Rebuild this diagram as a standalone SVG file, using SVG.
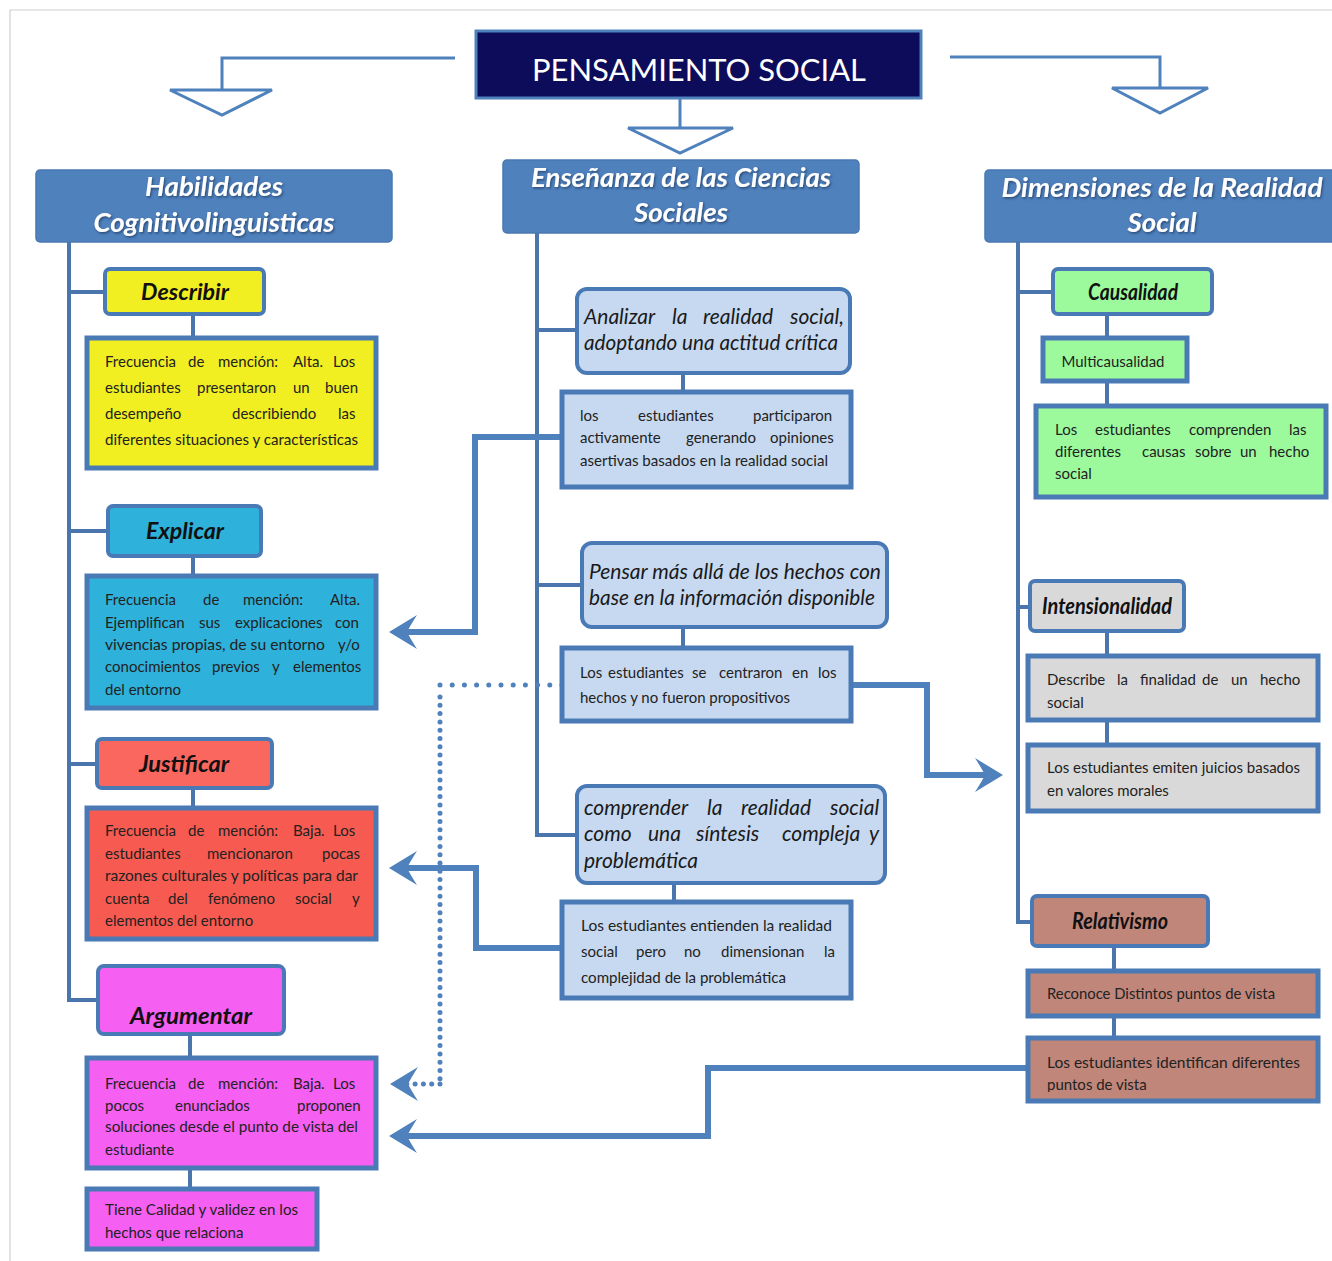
<svg xmlns="http://www.w3.org/2000/svg" width="1332" height="1261" viewBox="0 0 1332 1261">
<style>
.bg{fill:#ffffff}
.frame{stroke:#cfcfcf;stroke-width:1.2;fill:none}
.hdr{fill:#4f81bd;stroke:#4a78b0;stroke-width:1.5}
.hdrt{font-family:Lato,"Liberation Sans",sans-serif;font-weight:bold;font-style:italic;font-size:26px;fill:#ffffff;text-anchor:middle}
.ttl{fill:#0d0c5a;stroke:#4f81bd;stroke-width:3}
.ttlt{font-family:Lato,"Liberation Sans",sans-serif;font-size:30px;fill:#ffffff;text-anchor:middle}
.sub{stroke:#4a7ab5;stroke-width:4}
.subt{font-family:Lato,"Liberation Sans",sans-serif;font-weight:bold;font-style:italic;font-size:22px;fill:#111111;text-anchor:middle}
.det{stroke:#4a7ab5;stroke-width:5}
.t{font-family:Lato,"Liberation Sans",sans-serif;font-size:15px;fill:#222222}
.it{font-family:Lato,"Liberation Sans",sans-serif;font-style:italic;font-size:21px;fill:#1a1a1a}
.ln{stroke:#4a76ad;stroke-width:4;fill:none}
.tln{stroke:#4f81bd;stroke-width:3;fill:none}
.tri{fill:#ffffff;stroke:#4f81bd;stroke-width:3;stroke-linejoin:miter}
.arr{stroke:#4f81bd;stroke-width:6;fill:none;marker-end:url(#ah)}
.dot{stroke:#4f81bd;stroke-width:5;fill:none;stroke-linecap:round}
.yel{fill:#f1ee21}
.cya{fill:#2eb1da}
.red1{fill:#f9675f}
.red2{fill:#f75a50}
.mag{fill:#f55ff2}
.lb{fill:#c6d9f1}
.grn{fill:#9cfa9c}
.gry{fill:#d9d9d9}
.brn{fill:#c0867a}
</style>
<defs>
<marker id="ah" markerUnits="userSpaceOnUse" orient="auto" markerWidth="40" markerHeight="40" viewBox="-30 -20 40 40" refX="-8" refY="0" overflow="visible">
<path d="M0,0 L-28,-17 Q-21,-6 -18,0 Q-21,6 -28,17 Z" fill="#4f81bd"/>
</marker>
<filter id="sh" x="-10%" y="-20%" width="120%" height="150%">
<feDropShadow dx="1.2" dy="1.5" stdDeviation="0.8" flood-color="#1d3557" flood-opacity="0.7"/>
</filter>
<clipPath id="clipPv"><rect x="1030" y="1040" width="286" height="52"/></clipPath>
</defs>

<rect class="bg" x="0" y="0" width="1332" height="1261"/>
<path class="frame" d="M10,1261 V10 H1332"/>

<g id="connectors">
<path class="tln" d="M455,58 H222 V90"/>
<polygon class="tri" points="170,90 272,90 222,115"/>
<path class="tln" d="M680,98 V128"/>
<polygon class="tri" points="628,128 733,128 680,153"/>
<path class="tln" d="M950,57 H1160 V88"/>
<polygon class="tri" points="1112,88 1208,88 1160,113"/>
<path class="ln" d="M69,242 V1000 H98"/>
<path class="ln" d="M69,292 H105"/>
<path class="ln" d="M69,531 H108"/>
<path class="ln" d="M69,764 H97"/>
<path class="ln" d="M193,314 V338"/>
<path class="ln" d="M193,556 V576"/>
<path class="ln" d="M193,788 V808"/>
<path class="ln" d="M190,1034 V1058"/>
<path class="ln" d="M190,1168 V1189"/>
<path class="ln" d="M537,233 V835 H577"/>
<path class="ln" d="M537,330 H577"/>
<path class="ln" d="M537,585 H582"/>
<path class="ln" d="M683,373 V392"/>
<path class="ln" d="M683,627 V648"/>
<path class="ln" d="M674,883 V902"/>
<path class="ln" d="M1018,242 V922 H1032"/>
<path class="ln" d="M1018,292 H1053"/>
<path class="ln" d="M1018,607 H1030"/>
<path class="ln" d="M1107,314 V338"/>
<path class="ln" d="M1107,381 V406"/>
<path class="ln" d="M1107,631 V656"/>
<path class="ln" d="M1107,720 V745"/>
<path class="ln" d="M1114,946 V971"/>
<path class="ln" d="M1114,1016 V1038"/>
<path class="arr" d="M562,437 H475 V632 H397"/>
<path class="arr" d="M851,685 H927 V775 H995"/>
<path class="arr" d="M562,948 H476 V868 H397"/>
<path class="arr" d="M1028,1068 H708 V1136 H397"/>
<path class="dot" d="M562,685 H440" stroke-dasharray="0 12.2"/>
<path class="dot" d="M440,697 V1084" stroke-dasharray="0 8.3"/>
<path class="dot" d="M440,1084 H398" stroke-dasharray="0 8.3" style="marker-end:url(#ah)"/>
</g>

<g id="title">
<rect class="ttl" x="476" y="31" width="445" height="67"/>
<text class="ttlt" x="699" y="81" textLength="334" lengthAdjust="spacingAndGlyphs">PENSAMIENTO SOCIAL</text>
</g>

<g id="habilidades">
<rect class="hdr" x="36" y="170" width="356" height="72" rx="4"/>
<text class="hdrt" filter="url(#sh)" x="214" y="196" textLength="138" lengthAdjust="spacingAndGlyphs">Habilidades</text>
<text class="hdrt" filter="url(#sh)" x="214" y="232" textLength="241" lengthAdjust="spacingAndGlyphs">Cognitivolinguisticas</text>
</g>

<g id="ensenanza">
<rect class="hdr" x="503" y="160" width="356" height="73" rx="4"/>
<text class="hdrt" filter="url(#sh)" x="681" y="187" textLength="300" lengthAdjust="spacingAndGlyphs">Enseñanza de las Ciencias</text>
<text class="hdrt" filter="url(#sh)" x="681" y="222" textLength="94" lengthAdjust="spacingAndGlyphs">Sociales</text>
</g>

<g id="dimensiones">
<rect class="hdr" x="985" y="170" width="352" height="72" rx="4"/>
<text class="hdrt" filter="url(#sh)" x="1162" y="197" textLength="321" lengthAdjust="spacingAndGlyphs">Dimensiones de la Realidad</text>
<text class="hdrt" filter="url(#sh)" x="1162" y="232" textLength="69" lengthAdjust="spacingAndGlyphs">Social</text>
</g>

<g id="describir">
<rect class="sub yel" x="105" y="269" width="159" height="45" rx="5"/>
<text class="subt" x="185" y="300" textLength="88" lengthAdjust="spacingAndGlyphs">Describir</text>
</g>
<g id="describir-det">
<rect class="det yel" x="87" y="338" width="289" height="130"/>
<text class="t" y="367"><tspan x="105">Frecuencia</tspan><tspan x="188">de</tspan><tspan x="218">mención:</tspan><tspan x="293">Alta.</tspan><tspan x="333">Los</tspan></text>
<text class="t" y="393"><tspan x="105">estudiantes</tspan><tspan x="197">presentaron</tspan><tspan x="293">un</tspan><tspan x="325">buen</tspan></text>
<text class="t" y="419"><tspan x="105">desempeño</tspan><tspan x="232">describiendo</tspan><tspan x="338">las</tspan></text>
<text class="t" x="105" y="445" textLength="253" lengthAdjust="spacingAndGlyphs">diferentes situaciones y características</text>
</g>

<g id="explicar">
<rect class="sub cya" x="108" y="506" width="153" height="50" rx="5"/>
<text class="subt" x="185" y="539" textLength="78" lengthAdjust="spacingAndGlyphs">Explicar</text>
</g>
<g id="explicar-det">
<rect class="det cya" x="87" y="576" width="289" height="132"/>
<text class="t" y="605"><tspan x="105">Frecuencia</tspan><tspan x="203">de</tspan><tspan x="243">mención:</tspan><tspan x="330">Alta.</tspan></text>
<text class="t" y="628"><tspan x="105">Ejemplifican</tspan><tspan x="199">sus</tspan><tspan x="235">explicaciones</tspan><tspan x="335">con</tspan></text>
<text class="t" y="650"><tspan x="105" textLength="220" lengthAdjust="spacingAndGlyphs">vivencias propias, de su entorno</tspan><tspan x="338">y/o</tspan></text>
<text class="t" y="672"><tspan x="105">conocimientos</tspan><tspan x="212">previos</tspan><tspan x="272">y</tspan><tspan x="293">elementos</tspan></text>
<text class="t" x="105" y="695">del entorno</text>
</g>

<g id="justificar">
<rect class="sub red1" x="97" y="739" width="175" height="49" rx="5"/>
<text class="subt" x="184" y="772" textLength="90" lengthAdjust="spacingAndGlyphs">Justificar</text>
</g>
<g id="justificar-det">
<rect class="det red2" x="87" y="808" width="289" height="131"/>
<text class="t" y="836"><tspan x="105">Frecuencia</tspan><tspan x="188">de</tspan><tspan x="218">mención:</tspan><tspan x="293">Baja.</tspan><tspan x="333">Los</tspan></text>
<text class="t" y="859"><tspan x="105">estudiantes</tspan><tspan x="207">mencionaron</tspan><tspan x="322">pocas</tspan></text>
<text class="t" x="105" y="881" textLength="253" lengthAdjust="spacingAndGlyphs">razones culturales y políticas para dar</text>
<text class="t" y="904"><tspan x="105">cuenta</tspan><tspan x="168">del</tspan><tspan x="208">fenómeno</tspan><tspan x="295">social</tspan><tspan x="352">y</tspan></text>
<text class="t" x="105" y="926">elementos del entorno</text>
</g>

<g id="argumentar">
<rect class="sub mag" x="98" y="966" width="186" height="68" rx="6"/>
<text class="subt" x="191" y="1024" textLength="122" lengthAdjust="spacingAndGlyphs">Argumentar</text>
</g>
<g id="argumentar-det">
<rect class="det mag" x="87" y="1058" width="289" height="110"/>
<text class="t" y="1089"><tspan x="105">Frecuencia</tspan><tspan x="188">de</tspan><tspan x="218">mención:</tspan><tspan x="293">Baja.</tspan><tspan x="333">Los</tspan></text>
<text class="t" y="1111"><tspan x="105">pocos</tspan><tspan x="175">enunciados</tspan><tspan x="297">proponen</tspan></text>
<text class="t" x="105" y="1132" textLength="253" lengthAdjust="spacingAndGlyphs">soluciones desde el punto de vista del</text>
<text class="t" x="105" y="1155">estudiante</text>
</g>
<g id="argumentar-det2">
<rect class="det mag" x="87" y="1189" width="230" height="60"/>
<text class="t" x="105" y="1215" textLength="193" lengthAdjust="spacingAndGlyphs">Tiene Calidad y validez en los</text>
<text class="t" x="105" y="1238">hechos que relaciona</text>
</g>

<g id="analizar">
<rect class="sub lb" x="577" y="289" width="273" height="84" rx="10"/>
<text class="it" y="324"><tspan x="584">Analizar</tspan><tspan x="672">la</tspan><tspan x="703">realidad</tspan><tspan x="790">social,</tspan></text>
<text class="it" x="584" y="350" textLength="254" lengthAdjust="spacingAndGlyphs">adoptando una actitud crítica</text>
</g>
<g id="analizar-det">
<rect class="det lb" x="562" y="392" width="289" height="95"/>
<text class="t" y="421"><tspan x="580">los</tspan><tspan x="638">estudiantes</tspan><tspan x="753">participaron</tspan></text>
<text class="t" y="443"><tspan x="580">activamente</tspan><tspan x="686">generando</tspan><tspan x="770">opiniones</tspan></text>
<text class="t" x="580" y="466" textLength="248" lengthAdjust="spacingAndGlyphs">asertivas basados en la realidad social</text>
</g>

<g id="pensar">
<rect class="sub lb" x="582" y="543" width="305" height="84" rx="10"/>
<text class="it" x="589" y="579" textLength="292" lengthAdjust="spacingAndGlyphs">Pensar más allá de los hechos con</text>
<text class="it" x="589" y="605" textLength="286" lengthAdjust="spacingAndGlyphs">base en la información disponible</text>
</g>
<g id="pensar-det">
<rect class="det lb" x="562" y="648" width="289" height="73"/>
<text class="t" y="678"><tspan x="580">Los</tspan><tspan x="608">estudiantes</tspan><tspan x="692">se</tspan><tspan x="719">centraron</tspan><tspan x="792">en</tspan><tspan x="818">los</tspan></text>
<text class="t" x="580" y="703" textLength="210" lengthAdjust="spacingAndGlyphs">hechos y no fueron propositivos</text>
</g>

<g id="comprender">
<rect class="sub lb" x="577" y="786" width="308" height="97" rx="10"/>
<text class="it" y="815"><tspan x="584">comprender</tspan><tspan x="707">la</tspan><tspan x="741">realidad</tspan><tspan x="830">social</tspan></text>
<text class="it" y="841"><tspan x="584">como</tspan><tspan x="648">una</tspan><tspan x="696">síntesis</tspan><tspan x="782">compleja</tspan><tspan x="869">y</tspan></text>
<text class="it" x="584" y="868">problemática</text>
</g>
<g id="comprender-det">
<rect class="det lb" x="562" y="902" width="289" height="96"/>
<text class="t" x="581" y="931" textLength="251" lengthAdjust="spacingAndGlyphs">Los estudiantes entienden la realidad</text>
<text class="t" y="957"><tspan x="581">social</tspan><tspan x="636">pero</tspan><tspan x="684">no</tspan><tspan x="721">dimensionan</tspan><tspan x="824">la</tspan></text>
<text class="t" x="581" y="983" textLength="205" lengthAdjust="spacingAndGlyphs">complejidad de la problemática</text>
</g>

<g id="causalidad">
<rect class="sub grn" x="1053" y="269" width="159" height="45" rx="5"/>
<text class="subt" x="1133" y="300" textLength="90" lengthAdjust="spacingAndGlyphs">Causalidad</text>
</g>
<g id="multicausalidad">
<rect class="det grn" x="1043" y="338" width="144" height="43"/>
<text class="t" x="1113" y="367" text-anchor="middle" textLength="103" lengthAdjust="spacingAndGlyphs">Multicausalidad</text>
</g>
<g id="causalidad-det">
<rect class="det grn" x="1036" y="406" width="290" height="91"/>
<text class="t" y="435"><tspan x="1055">Los</tspan><tspan x="1095">estudiantes</tspan><tspan x="1189">comprenden</tspan><tspan x="1289">las</tspan></text>
<text class="t" y="457"><tspan x="1055">diferentes</tspan><tspan x="1142">causas</tspan><tspan x="1195">sobre</tspan><tspan x="1240">un</tspan><tspan x="1269">hecho</tspan></text>
<text class="t" x="1055" y="479">social</text>
</g>

<g id="intensionalidad">
<rect class="sub gry" x="1030" y="581" width="154" height="50" rx="5"/>
<text class="subt" x="1107" y="614" textLength="130" lengthAdjust="spacingAndGlyphs">Intensionalidad</text>
</g>
<g id="intensionalidad-det">
<rect class="det gry" x="1028" y="656" width="290" height="64"/>
<text class="t" y="685"><tspan x="1047">Describe</tspan><tspan x="1117">la</tspan><tspan x="1140">finalidad</tspan><tspan x="1202">de</tspan><tspan x="1231">un</tspan><tspan x="1260">hecho</tspan></text>
<text class="t" x="1047" y="708">social</text>
</g>
<g id="intensionalidad-det2">
<rect class="det gry" x="1028" y="745" width="290" height="66"/>
<text class="t" x="1047" y="773" textLength="253" lengthAdjust="spacingAndGlyphs">Los estudiantes emiten juicios basados</text>
<text class="t" x="1047" y="796">en valores morales</text>
</g>

<g id="relativismo">
<rect class="sub brn" x="1032" y="896" width="176" height="50" rx="5"/>
<text class="subt" x="1120" y="929" textLength="96" lengthAdjust="spacingAndGlyphs">Relativismo</text>
</g>
<g id="relativismo-det">
<rect class="det brn" x="1028" y="971" width="290" height="45"/>
<text class="t" x="1047" y="999" textLength="228" lengthAdjust="spacingAndGlyphs">Reconoce Distintos puntos de vista</text>
</g>
<g id="relativismo-det2">
<rect class="det brn" x="1028" y="1038" width="290" height="63"/>
<text class="t" x="1047" y="1068" textLength="253" lengthAdjust="spacingAndGlyphs">Los estudiantes identifican diferentes</text>
<text class="t" x="1047" y="1090" clip-path="url(#clipPv)">puntos de vista</text>
</g>
</svg>
